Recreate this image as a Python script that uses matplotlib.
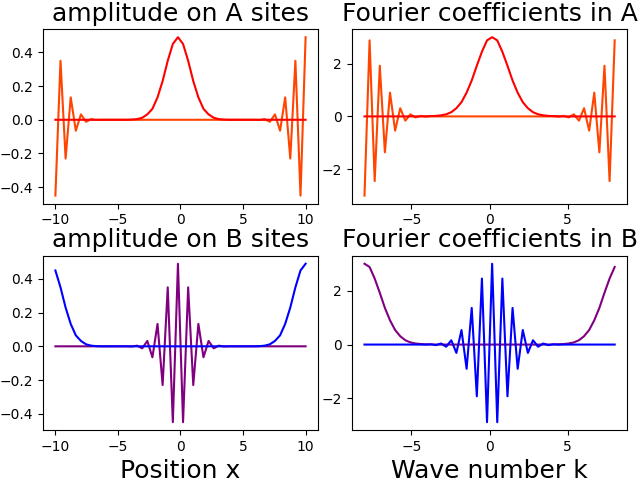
import numpy as np
import matplotlib
matplotlib.use("Agg")
import matplotlib.pyplot as plt
from matplotlib.ticker import MultipleLocator

# grids (50 sites, 50 wave numbers)
x = np.linspace(-10, 10, 50)
k = np.linspace(-8, 8, 50)

# amplitude on A sites
amp_A_edge = [-0.45, 0.35, -0.23, 0.133, -0.065, 0.032, -0.012, 0.004, -0.001, 0,
              0, 0, 0, 0, 0, 0, 0, 0, 0, 0,
              0, 0, 0, 0, 0, 0, 0, 0, 0, 0,
              0, 0, 0, 0, 0, 0, 0, 0, 0, 0,
              -0.001, 0.004, -0.012, 0.032, -0.065, 0.133, -0.23, 0.35, -0.45, 0.49]
amp_A_mid = [0, 0, 0, 0, 0, 0, 0, 0, 0, 0,
             0, 0, 0, 0, 0, 0.001, 0.004, 0.012, 0.032, 0.065,
             0.133, 0.23, 0.35, 0.45, 0.49, 0.45, 0.35, 0.23, 0.133, 0.065,
             0.032, 0.012, 0.004, 0.001, 0, 0, 0, 0, 0, 0,
             0, 0, 0, 0, 0, 0, 0, 0, 0, 0]

# amplitude on B sites
amp_B_mid = [0, 0, 0, 0, 0, 0, 0, 0, 0, 0,
             0, 0, 0, 0, 0, -0.001, 0.004, -0.012, 0.032, -0.065,
             0.133, -0.23, 0.35, -0.45, 0.49, -0.45, 0.35, -0.23, 0.133, -0.065,
             0.032, -0.012, 0.004, -0.001, 0, 0, 0, 0, 0, 0,
             0, 0, 0, 0, 0, 0, 0, 0, 0, 0]
amp_B_edge = [0.45, 0.35, 0.23, 0.133, 0.065, 0.032, 0.012, 0.004, 0.001, 0,
              0, 0, 0, 0, 0, 0, 0, 0, 0, 0,
              0, 0, 0, 0, 0, 0, 0, 0, 0, 0,
              0, 0, 0, 0, 0, 0, 0, 0, 0, 0,
              0.001, 0.004, 0.012, 0.032, 0.065, 0.133, 0.23, 0.35, 0.45, 0.49]

# Fourier coefficients in A
four_A_edge = [-3.0, 2.88, -2.45, 1.92, -1.36, 0.9, -0.54, 0.31, -0.16, 0.08,
               -0.04, 0.02, -0.01, 0.004, 0, 0, 0, 0, 0, 0,
               0, 0, 0, 0, 0, 0, 0, 0, 0, 0,
               0, 0, 0, 0, 0, 0, 0, 0.004, -0.01, 0.02,
               -0.04, 0.08, -0.16, 0.31, -0.54, 0.9, -1.36, 1.92, -2.45, 2.88]
four_A_mid = [0, 0, 0, 0, 0, 0, 0, 0, 0, 0,
              0, 0, 0.004, 0.01, 0.02, 0.04, 0.08, 0.16, 0.31, 0.54,
              0.9, 1.36, 1.92, 2.45, 2.88, 3.0, 2.88, 2.45, 1.92, 1.36,
              0.9, 0.54, 0.31, 0.16, 0.08, 0.04, 0.02, 0.01, 0.004, 0,
              0, 0, 0, 0, 0, 0, 0, 0, 0, 0]

# Fourier coefficients in B
four_B_edge = [3.0, 2.88, 2.45, 1.92, 1.36, 0.9, 0.54, 0.31, 0.16, 0.08,
               0.04, 0.02, 0.01, 0.004, 0, 0, 0, 0, 0, 0,
               0, 0, 0, 0, 0, 0, 0, 0, 0, 0,
               0, 0, 0, 0, 0, 0, 0, 0.004, 0.01, 0.02,
               0.04, 0.08, 0.16, 0.31, 0.54, 0.9, 1.36, 1.92, 2.45, 2.88]
four_B_mid = [0, 0, 0, 0, 0, 0, 0, 0, 0, 0,
              0, 0, -0.004, 0.01, -0.02, 0.04, -0.08, 0.16, -0.31, 0.54,
              -0.9, 1.36, -1.92, 2.45, -2.88, 3.0, -2.88, 2.45, -1.92, 1.36,
              -0.9, 0.54, -0.31, 0.16, -0.08, 0.04, -0.02, 0.01, -0.004, 0,
              0, 0, 0, 0, 0, 0, 0, 0, 0, 0]

fig, axs = plt.subplots(2, 2, figsize=(6.4, 4.8), dpi=100)
plt.subplots_adjust(left=0.067, right=0.98, top=0.939, bottom=0.104,
                    wspace=0.123, hspace=0.30)

axs[0, 0].plot(x, amp_A_edge, color='orangered')
axs[0, 0].plot(x, amp_A_mid, color='red')
axs[0, 0].set_title('amplitude on A sites', fontsize=18)

axs[0, 1].plot(k, four_A_edge, color='orangered')
axs[0, 1].plot(k, four_A_mid, color='red')
axs[0, 1].set_title('Fourier coefficients in A', fontsize=18)

axs[1, 0].plot(x, amp_B_mid, color='purple')
axs[1, 0].plot(x, amp_B_edge, color='blue')
axs[1, 0].set_title('amplitude on B sites', fontsize=18)
axs[1, 0].set_xlabel('Position x', fontsize=18)

axs[1, 1].plot(k, four_B_edge, color='purple')
axs[1, 1].plot(k, four_B_mid, color='blue')
axs[1, 1].set_title('Fourier coefficients in B', fontsize=18)
axs[1, 1].set_xlabel('Wave number k', fontsize=18)

for ax in (axs[0, 0], axs[1, 0]):
    ax.yaxis.set_major_locator(MultipleLocator(0.2))
for ax in (axs[0, 1], axs[1, 1]):
    ax.yaxis.set_major_locator(MultipleLocator(2))

plt.savefig('out.png')
